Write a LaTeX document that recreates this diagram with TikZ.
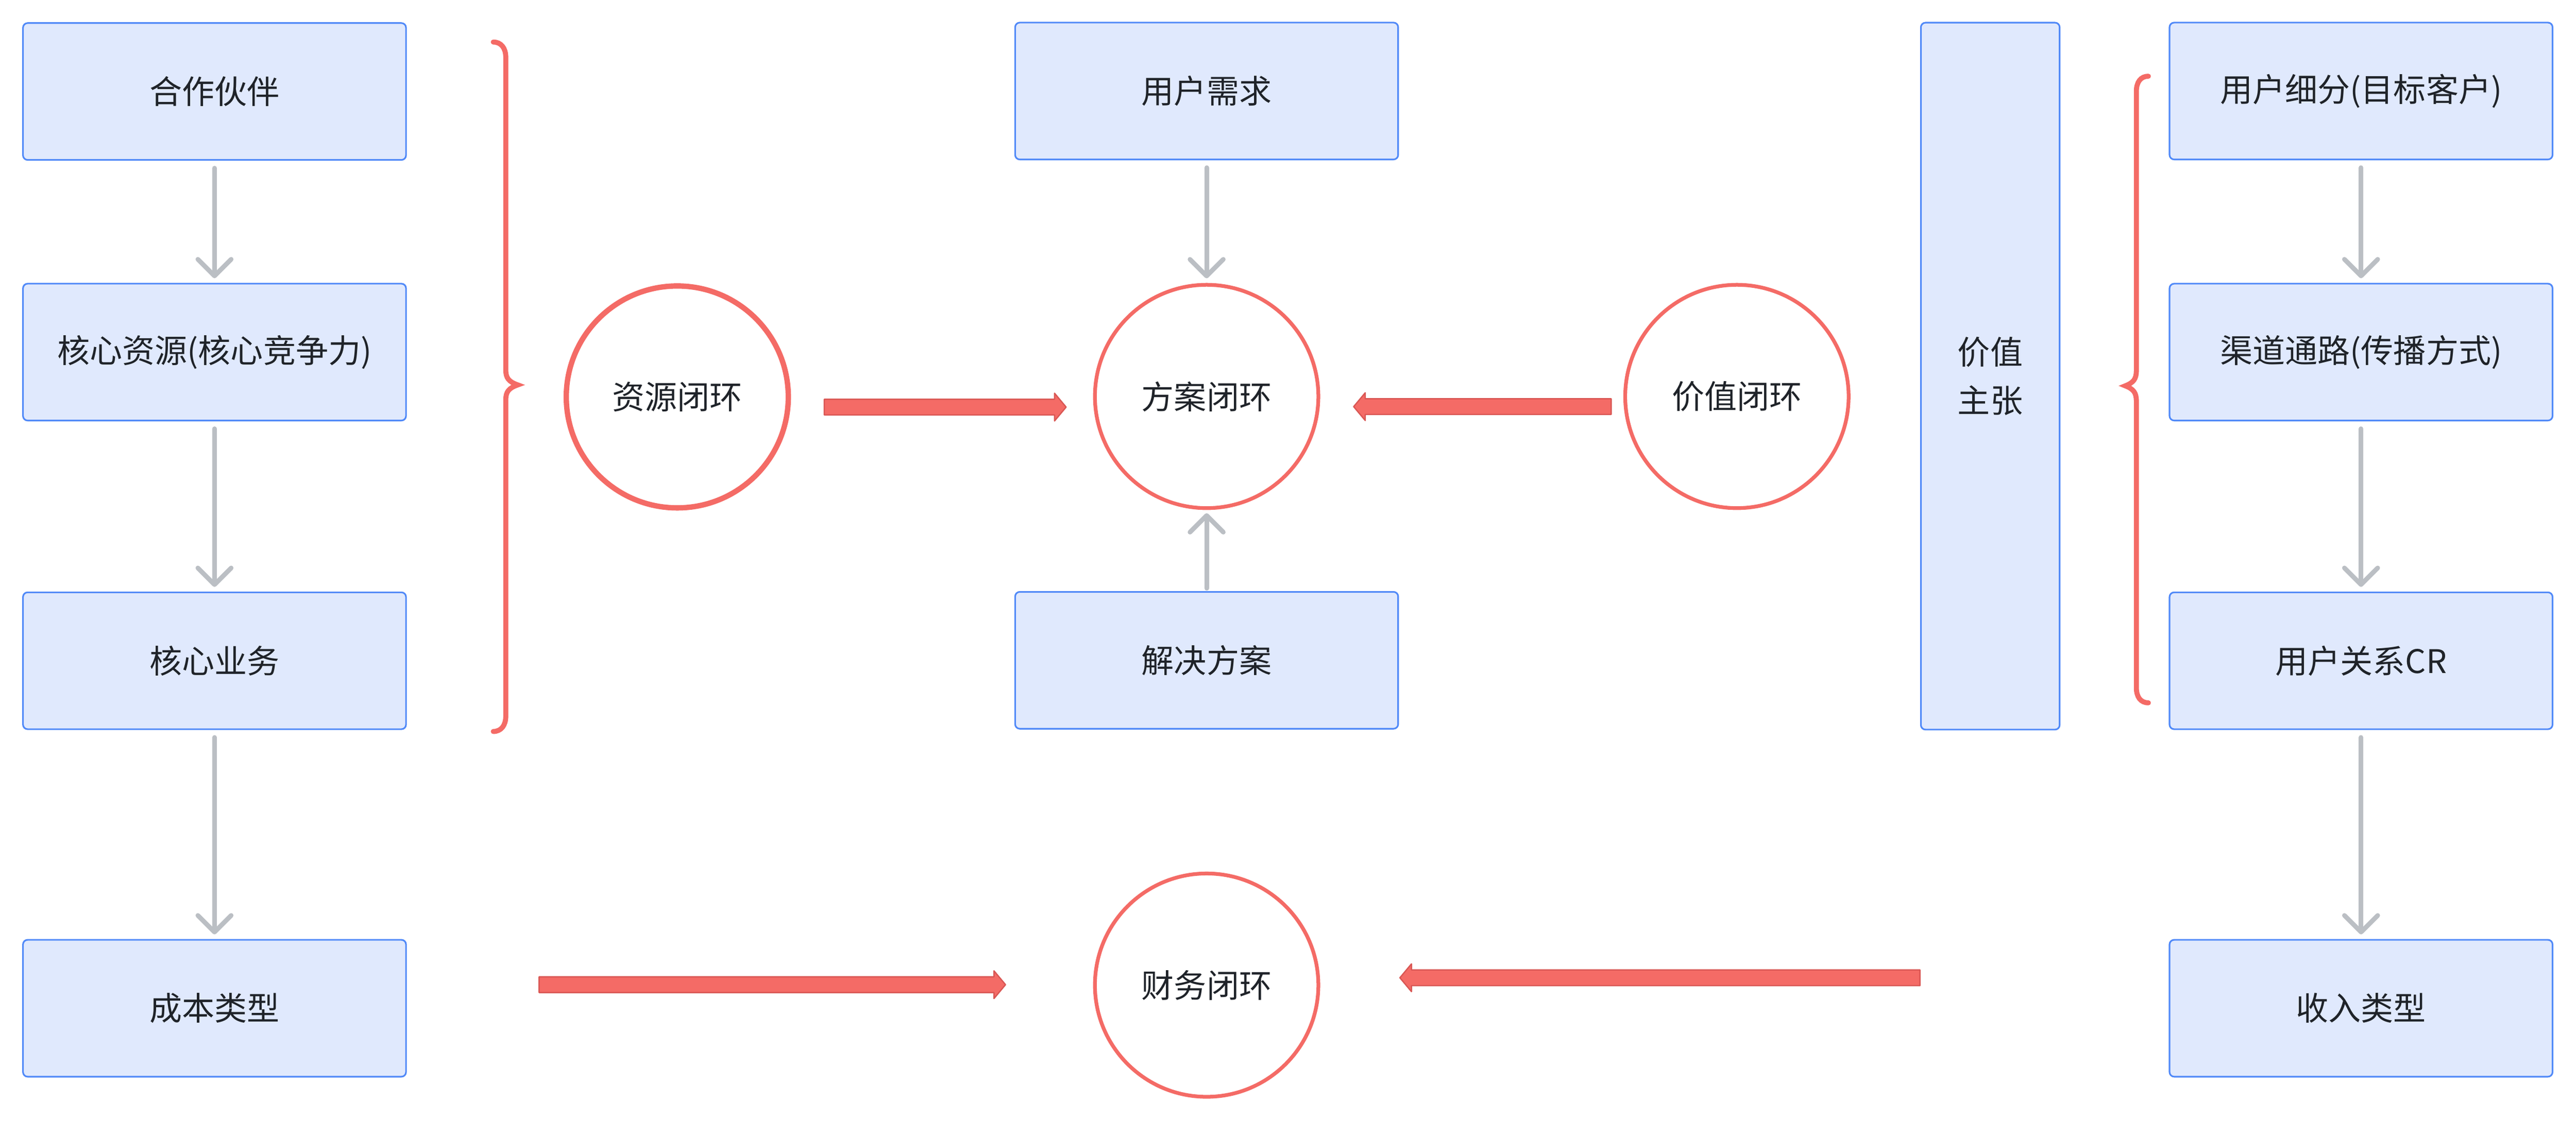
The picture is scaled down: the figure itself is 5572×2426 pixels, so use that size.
\documentclass[tikz,border=0pt]{standalone}
\usepackage{fontspec}
\setmainfont{Noto Sans CJK SC}
\usepackage{tikz}
\usetikzlibrary{arrows.meta, calc}
\definecolor{boxfill}{HTML}{E0E9FD}
\definecolor{boxline}{HTML}{5089F8}
\definecolor{flowgray}{HTML}{BBBFC4}
\definecolor{loopred}{HTML}{F46B66}
\definecolor{fatedge}{HTML}{D95754}
\definecolor{ink}{HTML}{1F2329}
\tikzset{
	block/.style={rectangle, draw=boxline, fill=boxfill, line width=1pt, rounded corners=0.1cm, minimum width=8.28cm, minimum height=2.96cm, inner sep=0pt, text=ink, font=\fontsize{20}{30}\selectfont},
	loop/.style={circle, draw=loopred, line width=2.3pt, minimum size=4.83cm, inner sep=0pt, text=ink, font=\fontsize{20}{30}\selectfont},
	flow/.style={draw=flowgray, line width=2.85pt, line cap=round, -{Straight Barb[length=0.36cm, width=0.72cm, round]}, shorten <=0.16cm, shorten >=0.1cm},
	fat/.style={fill=loopred, draw=fatedge, line width=0.8pt, line join=round},
	brace/.style={draw=loopred, line width=3.1pt, line cap=round}
}
\newcommand{\fatarrow}[2]{%
	\draw[fat] let \p1=(#1), \p2=(#2), \n1={ifthenelse(\x2>\x1,1,-1)} in
		(\x1,{\y1+0.17cm})--({\x2-\n1*0.25cm},{\y1+0.17cm})--({\x2-\n1*0.25cm},{\y1+0.3cm})--(\x2,\y1)
		--({\x2-\n1*0.25cm},{\y1-0.3cm})--({\x2-\n1*0.25cm},{\y1-0.17cm})--(\x1,{\y1-0.17cm})--cycle;}

\begin{document}
\begin{tikzpicture}[x=0.01cm, y=-0.01cm]
		\useasboundingbox(0, 0)rectangle(5572, 2426);
		\node[block](partner)at(464, 198){合作伙伴};
		\node[block](resource)at(464, 762){核心资源(核心竞争力)};
		\node[block](activity)at(464, 1430){核心业务};
		\node[block](cost)at(464, 2182){成本类型};
		\node[block](need)at(2610, 197){用户需求};
		\node[block](solution)at(2610, 1429){解决方案};
		\node[block, minimum width=3cm, minimum height=15.29cm, align=center](value)at(4305, 814){价值\\主张};
		\node[block](segment)at(5107, 197){用户细分(目标客户)};
		\node[block](channel)at(5107, 762){渠道通路(传播方式)};
		\node[block](relation)at(5107, 1430){用户关系CR};
		\node[block](revenue)at(5107, 2182){收入类型};
		\node[loop, line width=3.3pt, minimum size=4.8cm](resloop)at(1465, 859){资源闭环};
		\node[loop](planloop)at(2610, 858){方案闭环};
		\node[loop](valueloop)at(3757, 858){价值闭环};
		\node[loop](finloop)at(2610, 2132){财务闭环};
		\foreach \a/\b in {partner/resource, resource/activity, activity/cost, segment/channel, channel/relation, relation/revenue, need/planloop}
			\draw[flow](\a)--(\b);
		\draw[flow, shorten <=0.06cm, shorten >=0.07cm](solution)--(planloop);
		\coordinate(r1)at(1783, 881);
		\coordinate(r2)at(2306, 881);
		\coordinate(v1)at(3485, 880);
		\coordinate(v2)at(2928, 880);
		\coordinate(c1)at(1166, 2131);
		\coordinate(c2)at(2175, 2131);
		\coordinate(i1)at(4153, 2116);
		\coordinate(i2)at(3028, 2116);
		\fatarrow{r1}{r2}
		\fatarrow{v1}{v2}
		\fatarrow{c1}{c2}
		\fatarrow{i1}{i2}
		\draw[brace](1067, 91)..controls(1084, 91)and(1094, 104)..(1094, 124)--(1094, 800)
			..controls(1094, 818)and(1100, 826)..(1120, 833)..controls(1100, 840)and(1094, 848)..(1094, 866)
			--(1094, 1550)..controls(1094, 1570)and(1084, 1583)..(1067, 1583);
		\draw[brace](4647, 165)..controls(4630, 165)and(4621, 178)..(4621, 198)--(4621, 802)
			..controls(4621, 820)and(4615, 828)..(4597, 835)..controls(4615, 842)and(4621, 850)..(4621, 868)
			--(4621, 1488)..controls(4621, 1508)and(4630, 1521)..(4647, 1521);
	\end{tikzpicture}
\end{document}
